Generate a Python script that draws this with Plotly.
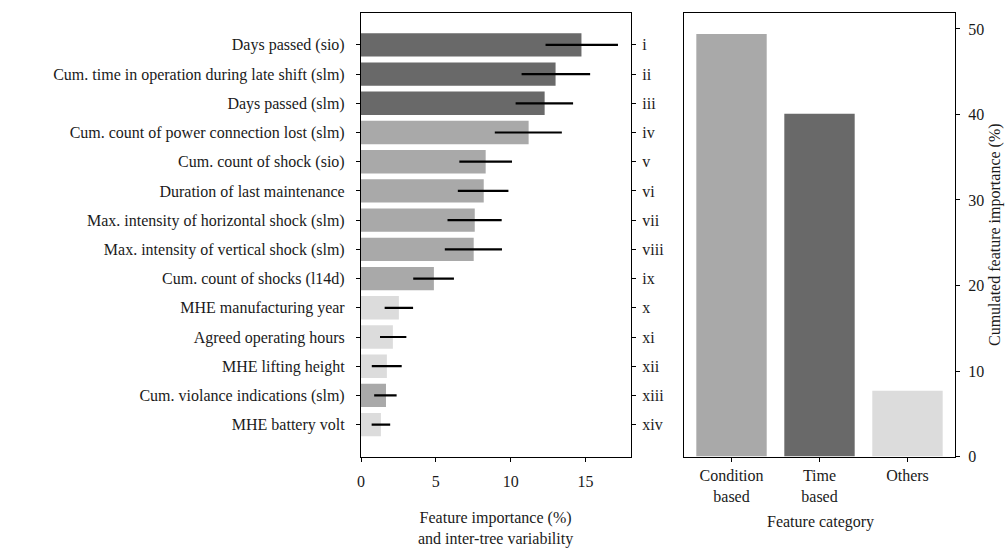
import plotly.graph_objects as go

features = [
    "Days passed (sio)",
    "Cum. time in operation during late shift (slm)",
    "Days passed (slm)",
    "Cum. count of power connection lost (slm)",
    "Cum. count of shock (sio)",
    "Duration of last maintenance",
    "Max. intensity of horizontal shock (slm)",
    "Max. intensity of vertical shock (slm)",
    "Cum. count of shocks (l14d)",
    "MHE manufacturing year",
    "Agreed operating hours",
    "MHE lifting height",
    "Cum. violance indications (slm)",
    "MHE battery volt",
]
numerals = ["i", "ii", "iii", "iv", "v", "vi", "vii", "viii", "ix", "x", "xi", "xii", "xiii", "xiv"]
importance = [14.73, 13.0, 12.27, 11.2, 8.33, 8.2, 7.6, 7.53, 4.87, 2.53, 2.13, 1.73, 1.67, 1.33]
err_center = [14.75, 13.02, 12.25, 11.18, 8.33, 8.16, 7.59, 7.51, 4.85, 2.53, 2.15, 1.72, 1.63, 1.33]
err_half = [2.42, 2.29, 1.92, 2.24, 1.76, 1.69, 1.81, 1.91, 1.36, 0.95, 0.88, 1.0, 0.75, 0.62]
feature_cat = ["Time", "Time", "Time", "Condition", "Condition", "Condition", "Condition",
               "Condition", "Condition", "Others", "Others", "Others", "Condition", "Others"]

categories = ["Condition<br>based", "Time<br>based", "Others"]
cat_values = [49.4, 40.1, 7.7]

cat_colors = {"Condition": "#a9a9a9", "Time": "#696969", "Others": "#dcdcdc"}
FONT = "Liberation Serif"
FS = 16
TXT = "#1a1a1a"

pos = list(range(len(features)))
fig = go.Figure()
fig.add_trace(go.Bar(
    x=importance, y=pos, orientation="h", width=0.8,
    marker=dict(color=[cat_colors[c] for c in feature_cat], line=dict(width=0)),
    xaxis="x", yaxis="y", showlegend=False,
))
fig.add_trace(go.Scatter(
    x=err_center, y=pos, mode="markers", marker=dict(size=0.1, color="rgba(0,0,0,0)"),
    error_x=dict(type="data", array=err_half, color="black", thickness=2.2, width=0),
    xaxis="x", yaxis="y", showlegend=False, hoverinfo="skip",
))
fig.add_trace(go.Scatter(
    x=[None] * len(pos), y=pos, mode="markers", xaxis="x", yaxis="y3",
    showlegend=False, hoverinfo="skip",
))
fig.add_trace(go.Bar(
    x=[0, 1, 2], y=cat_values, width=0.8,
    marker=dict(color=["#a9a9a9", "#696969", "#dcdcdc"], line=dict(width=0)),
    xaxis="x2", yaxis="y2", showlegend=False,
))

W, H = 1006, 549
def fx(px): return px / W
def fy(py): return 1 - py / H

n = len(features)
yr = [n - 1 + 1.09, -1.09]
axis_common = dict(showline=True, linecolor="black", linewidth=1.2, ticks="outside",
                   ticklen=4, tickwidth=1.2, tickcolor="black", showgrid=False, zeroline=False,
                   automargin=False,
                   tickfont=dict(family=FONT, size=FS, color=TXT))

fig.update_layout(
    width=W, height=H, margin=dict(l=0, r=0, t=0, b=0, autoexpand=False),
    plot_bgcolor="white", paper_bgcolor="white",
    bargap=0.2,
    xaxis=dict(domain=[fx(361), fx(631)], range=[0, 18.04], tickvals=[0, 5, 10, 15],
               mirror=True, anchor="y", ticklabelstandoff=6, **axis_common),
    yaxis=dict(domain=[fy(456.5), fy(13)], range=yr, tickvals=pos, ticktext=features,
               anchor="x", ticklabelstandoff=8, **axis_common),
    yaxis3=dict(overlaying="y", side="right", range=yr, tickvals=pos, ticktext=numerals,
                anchor="x", ticklabelstandoff=3, **axis_common),
    xaxis2=dict(domain=[fx(684), fx(955)], range=[-0.54, 2.54], tickvals=[0, 1, 2],
                ticktext=categories, mirror=True, anchor="y2", ticklabelstandoff=0, **axis_common),
    yaxis2=dict(domain=[fy(456.5), fy(13)], range=[0, 51.87], tickvals=[0, 10, 20, 30, 40, 50],
                side="right", mirror=True, anchor="x2", ticklabelstandoff=5, **axis_common),
    annotations=[
        dict(text="Feature importance (%)<br>and inter-tree variability", x=fx(495.5), y=fy(528),
             xref="paper", yref="paper", showarrow=False, xanchor="center", yanchor="middle",
             font=dict(family=FONT, size=FS, color=TXT)),
        dict(text="Feature category", x=fx(820), y=fy(522),
             xref="paper", yref="paper", showarrow=False, xanchor="center", yanchor="middle",
             font=dict(family=FONT, size=FS, color=TXT)),
        dict(text="Cumulated feature importance (%)", x=fx(995), y=fy(235), textangle=-90,
             xref="paper", yref="paper", showarrow=False, xanchor="center", yanchor="middle",
             font=dict(family=FONT, size=FS, color=TXT)),
    ],
)

fig.write_html("out.html")
